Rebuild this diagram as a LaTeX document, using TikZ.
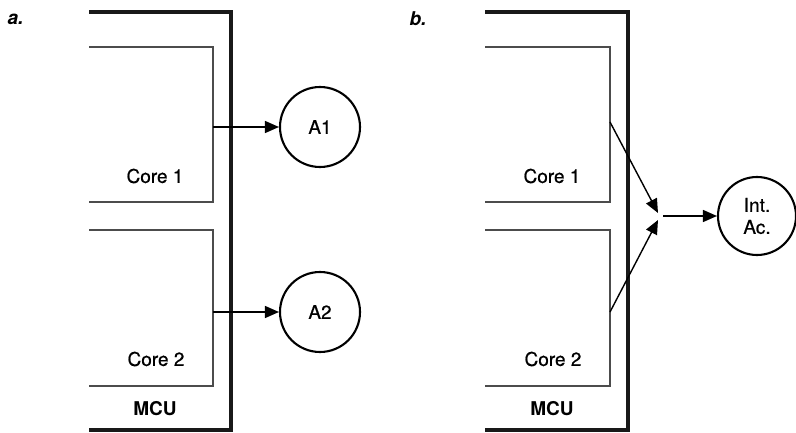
\documentclass[tikz,border=0pt]{standalone}
\usepackage{fontspec}
\setmainfont{TeX Gyre Heros}
\newfontfamily\medfont{TeX Gyre Heros}[FakeBold=0.6]
\usetikzlibrary{arrows.meta}
\begin{document}
\begin{tikzpicture}[x=1pt,y=-1pt,
  mculine/.style={line width=4.6pt,black!90},
  coreline/.style={line width=1.1pt,black!70},
  actuator/.style={circle,draw,line width=2.1pt,minimum size=80pt,inner sep=0pt,font=\medfont\fontsize{19}{21}\selectfont},
  lbl/.style={font=\medfont\fontsize{19}{21}\selectfont,inner sep=0pt},
  bold/.style={font=\fontsize{19}{21}\selectfont\bfseries,inner sep=0pt},
  panel/.style={font=\fontsize{19}{21}\selectfont\bfseries\itshape,inner sep=0pt},
  conn/.style={line width=1.4pt,-{Triangle[length=14pt,width=12pt]}}]
\useasboundingbox (0,0) rectangle (796,433);
% ---------- panel a ----------
\node[panel] (pa) at (15.5,19) {a.};
\draw[mculine] (89,12) -- (231,12) -- (231,430) -- (89,430);
\draw[coreline] (89,47) -- (213,47) -- (213,202) -- (89,202);
\draw[coreline] (89,230) -- (213,230) -- (213,386) -- (89,386);
\node[lbl] (c1a) at (155,176) {Core 1};
\node[lbl] (c2a) at (156,359) {Core 2};
\node[bold] (mcua) at (155,409) {MCU};
\node[actuator] (A1) at (320,127) {A1};
\node[actuator] (A2) at (320,312) {A2};
\coordinate (o1a) at (213,127);
\coordinate (o2a) at (213,312);
\draw[conn] (o1a) -- (A1);
\draw[conn] (o2a) -- (A2);
% ---------- panel b ----------
\node[panel] (pb) at (418,19) {b.};
\draw[mculine] (485,12) -- (628,12) -- (628,430) -- (485,430);
\draw[coreline] (485,47) -- (610,47) -- (610,202) -- (485,202);
\draw[coreline] (485,230) -- (610,230) -- (610,386) -- (485,386);
\node[lbl] (c1b) at (552,176) {Core 1};
\node[lbl] (c2b) at (553,359) {Core 2};
\node[bold] (mcub) at (552,409) {MCU};
\node[actuator,minimum size=78pt,align=center,font=\medfont\fontsize{19}{22}\selectfont] (IA) at (757,216) {Int.\\Ac.};
\coordinate (o1b) at (610,122);
\coordinate (o2b) at (610,312);
\coordinate (t1b) at (658,213);
\coordinate (t2b) at (658,220);
\coordinate (sb) at (663,216);
\draw[conn] (o1b) -- (t1b);
\draw[conn] (o2b) -- (t2b);
\draw[conn] (sb) -- (IA);
\end{tikzpicture}
\end{document}
